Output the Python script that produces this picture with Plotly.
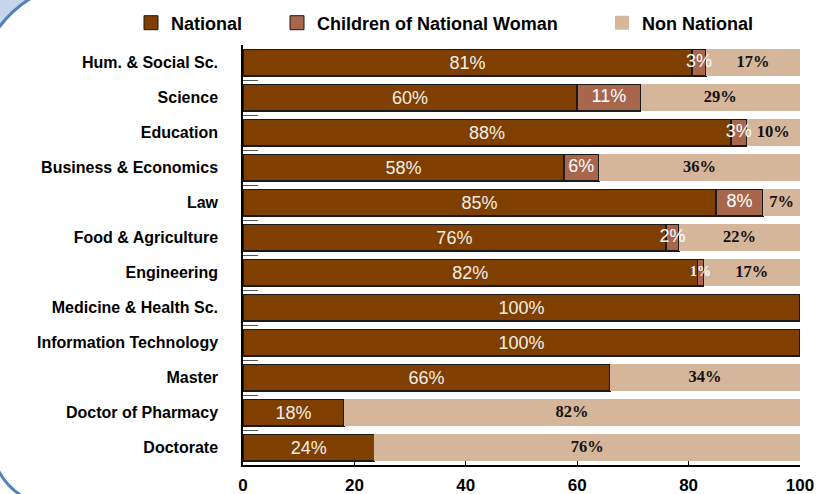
import plotly.graph_objects as go

# Anteile je Studienbereich (in %), von oben nach unten
categories = [
    "Hum. & Social Sc.", "Science", "Education", "Business & Economics",
    "Law", "Food & Agriculture", "Engineering", "Medicine & Health Sc.",
    "Information Technology", "Master", "Doctor of Pharmacy", "Doctorate",
]
national = [80.6, 60.0, 87.6, 57.6, 84.9, 75.9, 81.6, 100, 100, 65.9, 18.1, 23.6]
children = [2.5, 11.4, 2.8, 6.3, 8.5, 2.4, 1.1, 0, 0, 0, 0, 0]
non_national = [16.9, 28.6, 9.6, 36.1, 6.6, 21.7, 17.3, 0, 0, 34.1, 81.9, 76.4]

national_lbl = ["81%", "60%", "88%", "58%", "85%", "76%", "82%", "100%", "100%", "66%", "18%", "24%"]
children_lbl = ["3%", "11%", "3%", "6%", "8%", "2%", "<b>1%</b>", "", "", "", "", ""]
non_national_lbl = ["17%", "29%", "10%", "36%", "7%", "22%", "17%", "", "", "34%", "82%", "76%"]

x_ticks = [0, 20, 40, 60, 80, 100]

C_NAT = "#7F3F00"
C_CHILD = "#A8674D"
C_NON = "#D5B69B"
SANS = "Liberation Sans, Arial, sans-serif"
SERIF = "Liberation Serif, Times New Roman, serif"

# Plotbereich in Pixel (für die Deko-Formen)
L, R, T, B = 243, 16, 45, 29
W, H = 816, 494
PW, PH = W - L - R, H - T - B


def px(x):
    return (x - L) / PW


def py(y):
    return (H - B - y) / PH


def nz(vals):
    return [v if v else None for v in vals]


fig = go.Figure()

fig.add_trace(go.Bar(
    y=categories, x=nz(national), orientation="h", name="National",
    marker=dict(color=C_NAT, line=dict(color="#1a1a1a", width=1.5)),
    text=national_lbl, textposition="inside", insidetextanchor="middle",
    textangle=0, constraintext="none",
    textfont=dict(family=SANS, size=18, color="#f4efe9"),
    showlegend=False, hoverinfo="skip",
))
fig.add_trace(go.Bar(
    y=categories, x=nz(children), orientation="h", name="Children of National Woman",
    marker=dict(color=C_CHILD, line=dict(color="#1a1a1a", width=1.5)),
    showlegend=False, hoverinfo="skip",
))
fig.add_trace(go.Bar(
    y=categories, x=nz(non_national), orientation="h", name="Non National",
    marker=dict(color=C_NON, line=dict(width=0)),
    showlegend=False, hoverinfo="skip",
))

# Segmentbeschriftungen obenauf, damit nichts verdeckt wird
child_x = [n + c / 2 if c else None for n, c in zip(national, children)]
fig.add_trace(go.Scatter(
    y=categories, x=child_x, mode="text", text=children_lbl,
    textfont=dict(family=[SERIF if "<b>" in t else SANS for t in children_lbl],
                  size=[14 if "<b>" in t else 18 for t in children_lbl],
                  color="white"),
    showlegend=False, hoverinfo="skip", cliponaxis=False,
))
non_x = [n + c + o / 2 if o else None for n, c, o in zip(national, children, non_national)]
fig.add_trace(go.Scatter(
    y=categories, x=non_x, mode="text", text=non_national_lbl,
    textfont=dict(family=SERIF, size=16.5, color="#111111", weight="bold"),
    showlegend=False, hoverinfo="skip", cliponaxis=False,
))

# Legendeneinträge
legend_items = [
    ("National", C_NAT, 1, "legend"),
    ("Children of National Woman", C_CHILD, 1, "legend2"),
    ("Non National", C_NON, 0, "legend3"),
]
for name, col, lw, lg in legend_items:
    fig.add_trace(go.Scatter(
        x=[None], y=[None], mode="markers", name=name, legend=lg,
        marker=dict(symbol="square", size=14, color=col,
                    line=dict(color="#1a1a1a", width=lw)),
        hoverinfo="skip",
    ))

leg_font = dict(family=SANS, size=18, color="black", weight="bold")
leg_common = dict(orientation="h", yanchor="middle", y=py(23), xanchor="left",
                  font=leg_font, bgcolor="rgba(0,0,0,0)", borderwidth=0)

shapes = [
    # hellblaue Ecke oben links
    dict(type="path", xref="paper", yref="paper",
         path=f"M{px(-5)},{py(-5)} L{px(34)},{py(-5)} L{px(33)},{py(-3)} "
              f"Q{px(12)},{py(9)} {px(-3)},{py(30)} L{px(-5)},{py(31)} Z",
         fillcolor="#C6D6E8", line=dict(width=0), layer="below"),
    dict(type="path", xref="paper", yref="paper",
         path=f"M{px(33)},{py(-3)} Q{px(12)},{py(9)} {px(-3)},{py(30)}",
         line=dict(color="#4F81BD", width=3)),
    dict(type="path", xref="paper", yref="paper",
         path=f"M{px(-3)},{py(468)} Q{px(7)},{py(488)} {px(24)},{py(497)}",
         line=dict(color="#4F81BD", width=3)),
]

fig.update_layout(
    width=W, height=H,
    barmode="stack", bargap=0.243,
    paper_bgcolor="white", plot_bgcolor="white",
    margin=dict(l=L, r=R, t=T, b=B, pad=0, autoexpand=False),
    legend=dict(x=px(131), **leg_common),
    legend2=dict(x=px(277), **leg_common),
    legend3=dict(x=px(602), **leg_common),
    shapes=shapes,
    xaxis=dict(
        range=[0, 100], tickvals=x_ticks, showgrid=False, zeroline=False,
        showline=True, linecolor="black", linewidth=1.5,
        ticks="inside", ticklen=4, tickcolor="black", tickwidth=1,
        tickfont=dict(family=SANS, size=17, color="black", weight="bold"),
        ticklabelstandoff=4, fixedrange=True,
    ),
    yaxis=dict(
        type="category", categoryorder="array", categoryarray=categories,
        range=[len(categories) - 0.5, -0.5], showgrid=False,
        showline=True, linecolor="black", linewidth=1.5,
        ticks="inside", tickson="boundaries", ticklen=15, tickcolor="#555555",
        tickfont=dict(family=SANS, size=16, color="black", weight="bold"),
        ticklabelstandoff=20, fixedrange=True,
    ),
)

# Seitenrand des Browsers entfernen, damit die Grafik bei (0, 0) beginnt
fig.write_html("out.html", config={"displayModeBar": False},
               post_script="document.body.style.margin = '0';")
